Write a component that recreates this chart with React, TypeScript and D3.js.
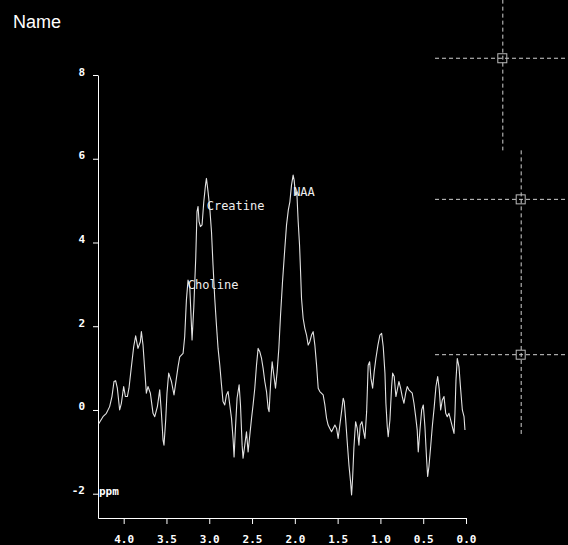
import React, { useEffect, useRef } from "react";
import * as d3 from "d3";

// Spectrum trace (ppm, intensity)
const ppm = [
  4.292, 4.242, 4.202, 4.164, 4.137, 4.113, 4.094, 4.074, 4.047, 4.027, 4.0, 3.98, 3.957, 3.938, 3.91,
  3.883, 3.86, 3.833, 3.805, 3.793, 3.774, 3.754, 3.735, 3.716, 3.688, 3.657, 3.637, 3.606, 3.579,
  3.559, 3.54, 3.529, 3.509, 3.494, 3.474, 3.442, 3.412, 3.392, 3.365, 3.345, 3.306, 3.287, 3.267,
  3.248, 3.228, 3.216, 3.201, 3.181, 3.158, 3.143, 3.131, 3.119, 3.103, 3.084, 3.064, 3.044, 3.033,
  3.014, 2.994, 2.974, 2.956, 2.936, 2.916, 2.897, 2.877, 2.857, 2.839, 2.819, 2.799, 2.78, 2.76,
  2.74, 2.722, 2.71, 2.694, 2.675, 2.651, 2.635, 2.616, 2.605, 2.585, 2.565, 2.546, 2.526, 2.506,
  2.488, 2.468, 2.448, 2.429, 2.409, 2.389, 2.371, 2.351, 2.331, 2.312, 2.301, 2.284, 2.265, 2.246,
  2.226, 2.207, 2.187, 2.167, 2.144, 2.117, 2.097, 2.076, 2.058, 2.039, 2.02, 2.008, 1.992, 1.977,
  1.961, 1.945, 1.933, 1.922, 1.903, 1.883, 1.863, 1.844, 1.825, 1.805, 1.786, 1.766, 1.746, 1.727,
  1.708, 1.669, 1.649, 1.629, 1.611, 1.591, 1.571, 1.552, 1.532, 1.512, 1.494, 1.474, 1.454, 1.435,
  1.423, 1.407, 1.388, 1.368, 1.349, 1.337, 1.325, 1.31, 1.29, 1.271, 1.251, 1.236, 1.216, 1.196,
  1.181, 1.161, 1.143, 1.126, 1.111, 1.091, 1.073, 1.053, 1.029, 1.006, 0.986, 0.967, 0.947, 0.936,
  0.92, 0.909, 0.889, 0.869, 0.857, 0.839, 0.819, 0.803, 0.784, 0.764, 0.745, 0.725, 0.705, 0.687,
  0.667, 0.647, 0.628, 0.608, 0.588, 0.57, 0.558, 0.538, 0.518, 0.499, 0.48, 0.46, 0.448, 0.433,
  0.413, 0.394, 0.371, 0.351, 0.331, 0.312, 0.296, 0.277, 0.257, 0.237, 0.219, 0.199, 0.179, 0.16,
  0.14, 0.129, 0.117, 0.102, 0.082, 0.062, 0.043, 0.023, 0.012,
];
const intensity = [
  -0.33, -0.16, -0.08, 0.08, 0.32, 0.68, 0.7, 0.52, 0.0, 0.16, 0.56, 0.32, 0.32, 0.52, 1.03,
  1.51, 1.77, 1.47, 1.63, 1.87, 1.55, 0.96, 0.4, 0.56, 0.4, -0.08, -0.16, 0.08, 0.48,
  -0.08, -0.72, -0.84, -0.24, 0.4, 0.88, 0.68, 0.36, 0.64, 1.03, 1.27, 1.35, 1.75, 2.63,
  3.1, 2.94, 2.39, 1.67, 2.44, 3.63, 4.74, 4.86, 4.5, 4.38, 4.42, 4.97, 5.37, 5.53,
  5.21, 4.82, 4.26, 3.46, 2.67, 2.03, 1.47, 1.07, 0.6, 0.2, 0.12, 0.36, 0.44, 0.12,
  -0.2, -0.68, -1.12, -0.44, 0.28, 0.6, 0.12, -0.84, -1.15, -0.84, -0.52, -1.0, -0.6, -0.2,
  0.12, 0.52, 1.07, 1.47, 1.39, 1.23, 1.0, 0.68, 0.44, 0.04, -0.04, 0.6, 1.15, 0.84,
  0.52, 0.91, 1.47, 2.27, 3.06, 3.86, 4.42, 4.78, 4.97, 5.37, 5.61, 5.49, 5.13, 5.21,
  4.5, 3.94, 3.3, 2.67, 2.19, 1.95, 1.79, 1.55, 1.63, 1.79, 1.87, 1.55, 1.07, 0.52,
  0.44, 0.36, 0.12, -0.2, -0.36, -0.44, -0.52, -0.44, -0.36, -0.44, -0.68, -0.36, -0.04, 0.28,
  0.2, -0.2, -0.76, -1.31, -1.71, -2.03, -1.63, -0.91, -0.28, -0.44, -0.84, -0.36, -0.28, -0.52,
  -0.68, -0.04, 1.07, 1.15, 0.76, 0.52, 0.91, 1.23, 1.55, 1.79, 1.83, 1.51, 0.88, 0.16,
  -0.4, -0.64, -0.24, 0.56, 0.88, 0.8, 0.32, 0.48, 0.68, 0.52, 0.32, 0.16, 0.4, 0.56,
  0.48, 0.44, 0.4, 0.16, -0.16, -0.48, -1.0, -0.48, 0.0, 0.12, -0.4, -1.19, -1.59, -1.35,
  -0.88, -0.4, 0.08, 0.56, 0.8, 0.48, 0.0, 0.24, 0.32, -0.08, -0.16, -0.08, -0.24, -0.4,
  -0.56, -0.08, 0.72, 1.23, 1.03, 0.48, 0.0, -0.16, -0.48,
];

const xTicks = [4.0, 3.5, 3.0, 2.5, 2.0, 1.5, 1.0, 0.5, 0.0];
const yTicks = [8, 6, 4, 2, 0, -2];

// Peak annotations
const peakNames = ["Choline", "Creatine", "NAA"];
const peakPpm = [3.25, 3.03, 2.02];
const peakValue = [2.88, 4.77, 5.12];

// Crosshair control points (outside the plotted ppm range)
const markerPpm = [-0.43, -0.645, -0.645];
const markerValue = [8.4, 5.03, 1.32];
const markerSpanTop = [9.8, 6.2, 3.2];
const markerSpanBottom = [6.2, 3.2, -0.6];
const hLineFrom = 0.362;
const hLineTo = -1.19;

const W = 568;
const H = 545;

const App = () => {
  const ref = useRef<SVGSVGElement | null>(null);

  useEffect(() => {
    const svg = d3.select(ref.current);
    svg.selectAll("*").remove();

    svg.append("rect").attr("width", W).attr("height", H).attr("fill", "#000");

    const x = d3.scaleLinear().domain([4.3, 0]).range([98, 466]);
    const y = d3.scaleLinear().domain([-2.58, 8]).range([518, 75]);

    // Title
    svg
      .append("text")
      .attr("x", 13)
      .attr("y", 28)
      .attr("fill", "#fff")
      .style("font-family", "'Liberation Sans', Arial, sans-serif")
      .style("font-size", "18px")
      .text("Name");

    const axisFont = "'DejaVu Sans Mono', monospace";

    // x axis
    const gx = svg
      .append("g")
      .attr("transform", `translate(0, ${y.range()[0]})`)
      .call(
        d3
          .axisBottom(x)
          .tickValues(xTicks)
          .tickFormat(d3.format(".1f") as any)
          .tickSize(6)
          .tickSizeOuter(0)
      );
    gx.selectAll("path, line").attr("stroke", "#fff");
    gx.selectAll("text")
      .attr("y", 25)
      .attr("dy", 0)
      .attr("fill", "#fff")
      .style("font-family", axisFont)
      .style("font-weight", "bold")
      .style("font-size", "11px");

    // y axis
    const gy = svg
      .append("g")
      .attr("transform", `translate(${x.range()[0]}, 0)`)
      .call(
        d3
          .axisLeft(y)
          .tickValues(yTicks)
          .tickFormat((d: any) => (d < 0 ? "-" + Math.abs(d) : String(d)))
          .tickSize(5)
          .tickPadding(8)
          .tickSizeOuter(0)
      );
    gy.selectAll("path, line").attr("stroke", "#fff");
    gy.selectAll("text")
      .attr("dy", 0)
      .attr("fill", "#fff")
      .style("font-family", axisFont)
      .style("font-weight", "bold")
      .style("font-size", "11px");

    // unit label
    svg
      .append("text")
      .attr("x", x.range()[0] + 1)
      .attr("y", y(-2) + 1)
      .attr("fill", "#fff")
      .style("font-family", axisFont)
      .style("font-weight", "bold")
      .style("font-size", "11px")
      .text("ppm");

    // Spectrum
    const line = d3
      .line<number>()
      .x((_, i) => x(ppm[i]))
      .y((d) => y(d));
    svg
      .append("path")
      .datum(intensity)
      .attr("d", line)
      .attr("fill", "none")
      .attr("stroke", "#e2e2e2")
      .attr("stroke-width", 1.1)
      .attr("stroke-linejoin", "round");

    // Peak labels
    svg
      .selectAll(".peak")
      .data(peakNames)
      .enter()
      .append("text")
      .attr("class", "peak")
      .attr("x", (_, i) => x(peakPpm[i]))
      .attr("y", (_, i) => y(peakValue[i]))
      .attr("fill", "#eee")
      .style("font-family", axisFont)
      .style("font-size", "12px")
      .text((d) => d);

    // Crosshair markers
    const dash = "4,3";
    const guides = svg.append("g").attr("stroke", "#d0d0d0").attr("fill", "none");
    markerPpm.forEach((p, i) => {
      guides
        .append("line")
        .attr("x1", x(hLineFrom))
        .attr("x2", x(hLineTo))
        .attr("y1", y(markerValue[i]))
        .attr("y2", y(markerValue[i]))
        .attr("stroke-dasharray", dash);
      guides
        .append("line")
        .attr("x1", x(p))
        .attr("x2", x(p))
        .attr("y1", y(markerSpanTop[i]))
        .attr("y2", y(markerSpanBottom[i]))
        .attr("stroke-dasharray", dash);
      guides
        .append("rect")
        .attr("x", x(p) - 5)
        .attr("y", y(markerValue[i]) - 4.5)
        .attr("width", 9)
        .attr("height", 9)
        .attr("stroke", "#bbb");
    });
  }, []);

  return (
    <svg
      ref={ref}
      width={W}
      height={H}
      style={{ position: "absolute", left: 0, top: 0, display: "block" }}
    />
  );
};

export default App;
